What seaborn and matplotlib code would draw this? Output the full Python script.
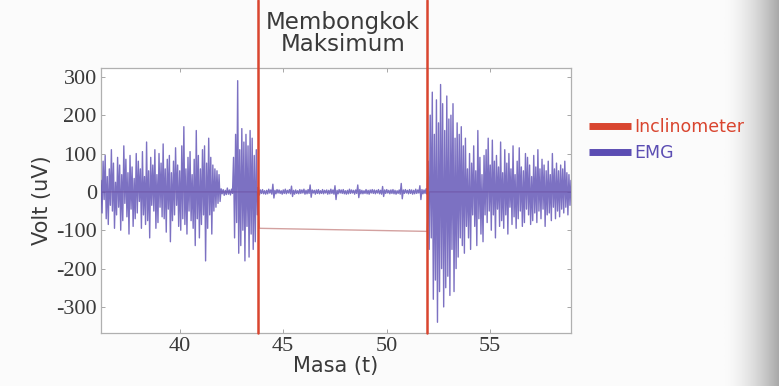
import numpy as np
import pandas as pd
import matplotlib
matplotlib.use("Agg")
import matplotlib.pyplot as plt
import seaborn as sns
from matplotlib.lines import Line2D
from matplotlib import font_manager

# ---------------- data ----------------
emg_start = 36.2   # s, first EMG sample
emg_step = 0.05    # s between samples
emg_values = [
    # 36.2 - 41.95 : resting activity
    30, -55, 80, -20, 95, -70, 40, -85, 60, -35,
    110, -50, 75, -95, 25, -60, 90, -40, 70, -100,
    45, -75, 120, -30, 85, -65, 50, -110, 95, -45,
    65, -90, 35, -70, 100, -55, 80, -25, 60, -95,
    105, -60, 40, -85, 130, -75, 55, -120, 90, -35,
    70, -50, 110, -95, 45, -80, 100, -40, 75, -65,
    125, -70, 60, -105, 85, -45, 95, -130, 50, -75,
    80, -60, 115, -35, 70, -90, 55, -100, 120, -70,
    170, -85, 60, -110, 90, -50, 105, -75, 45, -95,
    85, -140, 160, -70, 95, -120, 60, -85, 110, -60,
    120, -180, 75, -95, 140, -60, 90, -110, 70, -50,
    60, -40, 55, -30, 45, -25,
    # 42.0 - 42.55 : short pause
    8, -5, 6, -9, 4, -7, 10, -6, 5, -8, 7, -4,
    # 42.6 - 43.75 : burst before bending
    90, -120, 150, -80, 290, -160, 110, -140, 165, -100,
    130, -180, 150, -90, 120, -170, 160, -110, 140, -150,
    95, -130, 110, -60,
    # 43.8 - 51.95 : maximum bending (flexion-relaxation)
    12, -8, 5, -4, 6, -5, 3, -6, 4, -5,
    7, -3, 5, -6, 20, -16, 4, -5, 6, -3,
    5, -4, 3, -6, 5, -4, 7, -5, 4, -3,
    6, -5, 15, -12, 4, -6, 5, -4, 3, -5,
    6, -4, 5, -3, 7, -6, 4, -5, 6, -4,
    18, -14, 5, -3, 4, -6, 5, -4, 6, -5,
    3, -4, 6, -5, 4, -3, 5, -6, 4, -5,
    7, -4, 5, -6, 16, -20, 4, -5, 6, -3,
    5, -4, 6, -5, 3, -6, 4, -5, 7, -4,
    5, -3, 4, -6, 5, -4, 18, -15, 6, -5,
    4, -5, 3, -4, 6, -5, 4, -6, 5, -3,
    6, -4, 5, -5, 4, -3, 6, -5, 4, -6,
    14, -12, 5, -4, 6, -3, 4, -5, 5, -4,
    6, -5, 4, -6, 3, -4, 5, -6, 22, -18,
    5, -4, 6, -3, 4, -5, 6, -4, 5, -6,
    4, -5, 7, -4, 5, -3, 16, -20, 6, -5,
    5, -4, 8, -6,
    # 52.0 - 53.75 : large burst when straightening
    80, -150, 200, -120, 260, -280, 150, -230, 240, -340,
    180, -260, 280, -200, 230, -300, 160, -250, 250, -220,
    190, -270, 200, -150, 230, -260, 140, -200, 180, -170,
    150, -120, 170, -140, 120, -160,
    # 53.8 - 58.9 : decaying activity
    140, -90, 60, -120, 100, -150, 75, -60, 120, -90,
    55, -140, 160, -70, 90, -110, 45, -130, 95, -60,
    110, -80, 140, -50, 70, -100, 135, -60, 80, -120,
    95, -45, 65, -90, 130, -75, 50, -95, 110, -60,
    75, -110, 100, -40, 60, -85, 120, -65, 45, -95,
    80, -70, 115, -50, 65, -90, 55, -80, 100, -45,
    90, -60, 70, -85, 40, -75, 95, -55, 65, -80,
    110, -50, 60, -70, 85, -45, 70, -90, 55, -60,
    80, -55, 45, -75, 100, -40, 60, -70, 75, -50,
    55, -65, 70, -45, 60, -55, 80, -40, 50, -60,
    45, -35, 30,
]

incl_time = [36.2, 43.75, 43.85, 51.95, 52.05, 58.9]
incl_values = [0, 0, -95, -103, 0, 0]

bend_start = 43.8
bend_end = 51.95
region_label = "Membongkok\nMaksimum"

x_ticks = [40, 45, 50, 55]
y_ticks = [-300, -200, -100, 0, 100, 200, 300]

# ---------------- build frames ----------------
emg_df = pd.DataFrame({
    "t": emg_start + emg_step * np.arange(len(emg_values)),
    "v": emg_values,
})
incl_df = pd.DataFrame({"t": incl_time, "v": incl_values})

# ---------------- style ----------------
sns.set_theme(style="white")
plt.rcParams["font.family"] = ["DejaVu Sans"]
plt.rcParams["font.serif"] = ["Liberation Serif", "Times New Roman", "DejaVu Serif"]

# serif font for the tick numbers
serif_name = "DejaVu Serif"
for cand in ["Liberation Serif", "Times New Roman", "Nimbus Roman", "DejaVu Serif"]:
    try:
        font_manager.findfont(cand, fallback_to_default=False)
        serif_name = cand
        break
    except Exception:
        pass

red = "#d9452f"
purple = "#5b4db3"
txt = "#3a3a3a"

fig = plt.figure(figsize=(7.79, 3.86), dpi=100)
fig.patch.set_facecolor("#fbfbfb")

# faint grey shading at the right edge (page curvature in the photo)
grad_ax = fig.add_axes([0.93, 0, 0.07, 1])
grad = np.linspace(0, 1, 100)[None, :] ** 1.6
grad_ax.imshow(grad, aspect="auto", cmap=matplotlib.colors.LinearSegmentedColormap.from_list(
    "g", ["#fbfbfb", "#a9a9a9"]), extent=[0, 1, 0, 1])
grad_ax.axis("off")

ax = fig.add_axes([0.1297, 0.1373, 0.6033, 0.6865])
ax.set_facecolor("white")

sns.lineplot(data=incl_df, x="t", y="v", ax=ax, color="#c98a88", lw=1.0,
             estimator=None, sort=False, alpha=0.8, zorder=2)
sns.lineplot(data=emg_df, x="t", y="v", ax=ax, color=purple, lw=1.0,
             estimator=None, sort=False, alpha=0.8, zorder=3)

for xv in (bend_start, bend_end):
    ax.axvline(xv, ymin=0, ymax=1.257, color=red, lw=1.8, clip_on=False, zorder=5)

ax.text((bend_start + bend_end) / 2, 1.13, region_label,
        transform=ax.get_xaxis_transform(), ha="center", va="center",
        fontsize=16.5, color=txt, linespacing=0.95)

ax.set_xlim(36.2, 58.9)
ax.set_ylim(-368, 323)
ax.set_xticks(x_ticks)
ax.set_yticks(y_ticks)
ax.set_xticklabels([str(v) for v in x_ticks])
ax.set_yticklabels([str(v) for v in y_ticks])
ax.tick_params(direction="in", length=3, width=0.6, color="#999999",
               labelcolor=txt, labelsize=16,
               top=True, right=True, bottom=True, left=True, pad=3)
for s in ax.spines.values():
    s.set_color("#b0b0b0")
    s.set_linewidth(0.9)

ax.set_xlabel("Masa (t)", fontsize=15, color=txt, labelpad=0)
ax.set_ylabel("Volt (uV)", fontsize=15, color=txt, labelpad=3)

handles = [Line2D([0], [0], color=red, lw=5, solid_capstyle="butt"),
           Line2D([0], [0], color=purple, lw=5, solid_capstyle="butt")]
ax.legend(handles, ["Inclinometer", "EMG"], loc="upper left",
          bbox_to_anchor=(1.005, 0.87), frameon=False, fontsize=12.5,
          handlelength=2.4, handletextpad=0.2, labelspacing=0.45,
          labelcolor="linecolor")

for lbl in ax.get_xticklabels() + ax.get_yticklabels():
    lbl.set_fontfamily(serif_name)
    lbl.set_fontsize(16)

fig.savefig("out.png", dpi=100)
